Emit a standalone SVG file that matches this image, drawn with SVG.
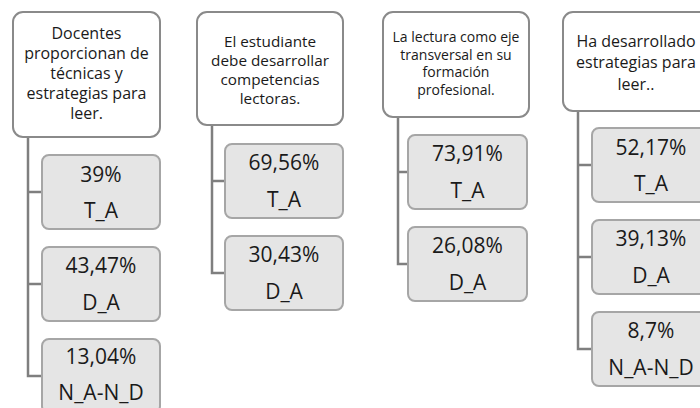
<svg xmlns="http://www.w3.org/2000/svg" width="700" height="408" viewBox="0 0 700 408">
  <style>
    .hdr { fill: #ffffff; stroke: #8a8a8a; stroke-width: 2; }
    .leaf { fill: #e5e5e5; stroke: #a6a6a6; stroke-width: 2; }
    .conn { fill: none; stroke: #7f7f7f; stroke-width: 2.5; }
    text { font-family: "Open Sans", "Liberation Sans", sans-serif; fill: #1a1a1a; text-anchor: middle; }
    .h { font-size: 16px; }
    .h2 { font-size: 15.3px; }
    .h3 { font-size: 14px; }
    .v { font-size: 21px; }
  </style>
  <rect width="700" height="408" fill="#ffffff"/>
  <g id="connectors">
    <path class="conn" d="M28 137 V376 H42 M28 192 H42 M28 284 H42"/>
    <path class="conn" d="M212 125 V273 H225 M212 181 H225"/>
    <path class="conn" d="M398 117 V264 H408 M398 172 H408"/>
    <path class="conn" d="M578 111 V349 H592 M578 165 H592 M578 257 H592"/>
  </g>
  <g id="h1">
    <rect class="hdr" x="13" y="12" width="147" height="125" rx="10"/>
    <text class="h" x="86.5" y="39">Docentes</text>
    <text class="h" x="86.5" y="59">proporcionan de</text>
    <text class="h" x="86.5" y="79">técnicas y</text>
    <text class="h" x="86.5" y="99">estrategias para</text>
    <text class="h" x="86.5" y="119">leer.</text>
  </g>
  <g id="c1a">
    <rect class="leaf" x="42" y="155" width="118" height="74" rx="7"/>
    <text class="v" x="101" y="182">39%</text>
    <text class="v" x="101" y="218">T_A</text>
  </g>
  <g id="c1b">
    <rect class="leaf" x="42" y="247" width="118" height="74" rx="7"/>
    <text class="v" x="101" y="273">43,47%</text>
    <text class="v" x="101" y="310">D_A</text>
  </g>
  <g id="c1c">
    <rect class="leaf" x="42" y="339" width="118" height="74" rx="7"/>
    <text class="v" x="101" y="364">13,04%</text>
    <text class="v" x="101" y="400">N_A-N_D</text>
  </g>
  <g id="h2">
    <rect class="hdr" x="197" y="12" width="146" height="113" rx="10"/>
    <text class="h2" x="270" y="46.5">El estudiante</text>
    <text class="h2" x="270" y="65.8">debe desarrollar</text>
    <text class="h2" x="270" y="85.1">competencias</text>
    <text class="h2" x="270" y="104.4">lectoras.</text>
  </g>
  <g id="c2a">
    <rect class="leaf" x="225" y="144" width="118" height="74" rx="7"/>
    <text class="v" x="284" y="170">69,56%</text>
    <text class="v" x="284" y="207">T_A</text>
  </g>
  <g id="c2b">
    <rect class="leaf" x="225" y="236" width="118" height="74" rx="7"/>
    <text class="v" x="284" y="262">30,43%</text>
    <text class="v" x="284" y="299">D_A</text>
  </g>
  <g id="h3">
    <rect class="hdr" x="383" y="12" width="146" height="105" rx="10"/>
    <text class="h3" x="456" y="42">La lectura como eje</text>
    <text class="h3" x="456" y="59.5">transversal en su</text>
    <text class="h3" x="456" y="77">formación</text>
    <text class="h3" x="456" y="94.5">profesional.</text>
  </g>
  <g id="c3a">
    <rect class="leaf" x="408" y="135" width="119" height="74" rx="7"/>
    <text class="v" x="467.5" y="161">73,91%</text>
    <text class="v" x="467.5" y="198">T_A</text>
  </g>
  <g id="c3b">
    <rect class="leaf" x="408" y="227" width="119" height="74" rx="7"/>
    <text class="v" x="467.5" y="253">26,08%</text>
    <text class="v" x="467.5" y="290">D_A</text>
  </g>
  <g id="h4">
    <rect class="hdr" x="563" y="12" width="146" height="99" rx="10"/>
    <text class="h" x="636" y="47">Ha desarrollado</text>
    <text class="h" x="636" y="68">estrategias para</text>
    <text class="h" x="636" y="90">leer..</text>
  </g>
  <g id="c4a">
    <rect class="leaf" x="592" y="128" width="118" height="74" rx="7"/>
    <text class="v" x="651" y="155">52,17%</text>
    <text class="v" x="651" y="191">T_A</text>
  </g>
  <g id="c4b">
    <rect class="leaf" x="592" y="220" width="118" height="74" rx="7"/>
    <text class="v" x="651" y="246">39,13%</text>
    <text class="v" x="651" y="283">D_A</text>
  </g>
  <g id="c4c">
    <rect class="leaf" x="592" y="312" width="118" height="74" rx="7"/>
    <text class="v" x="651" y="338">8,7%</text>
    <text class="v" x="651" y="375">N_A-N_D</text>
  </g>
</svg>
